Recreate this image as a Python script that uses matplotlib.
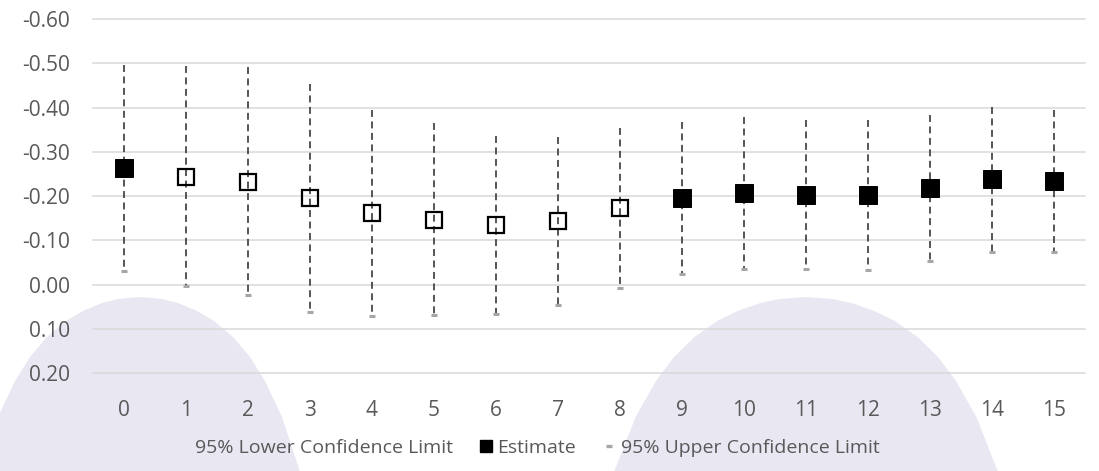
import matplotlib
matplotlib.use("Agg")
import numpy as np
import matplotlib.pyplot as plt
from matplotlib.lines import Line2D
from matplotlib.patches import Polygon

# Period index on the horizontal axis
periods = [0, 1, 2, 3, 4, 5, 6, 7, 8, 9, 10, 11, 12, 13, 14, 15]

# Point estimates with their 95% confidence limits
estimate = [-0.263, -0.244, -0.233, -0.196, -0.162, -0.147, -0.135, -0.143,
            -0.174, -0.196, -0.206, -0.203, -0.202, -0.218, -0.239, -0.235]
lower_cl = [-0.497, -0.493, -0.491, -0.454, -0.395, -0.365, -0.336, -0.333,
            -0.354, -0.368, -0.378, -0.372, -0.371, -0.384, -0.402, -0.395]
upper_cl = [-0.032, 0.004, 0.023, 0.061, 0.071, 0.068, 0.066, 0.046,
            0.008, -0.025, -0.035, -0.035, -0.033, -0.053, -0.074, -0.074]

y_ticks = [-0.60, -0.50, -0.40, -0.30, -0.20, -0.10, 0.00, 0.10, 0.20]

plt.rcParams["font.family"] = ["Open Sans", "DejaVu Sans"]
TEXT_GREY = "#595959"
FS = 15

W, H = 1099, 471
fig = plt.figure(figsize=(W / 100, H / 100), dpi=100)
fig.patch.set_facecolor("white")


def px_box(x0, y0, x1, y1):
    """Axes rectangle from pixel edges (origin at top-left)."""
    return [x0 / W, 1 - y1 / H, (x1 - x0) / W, (y1 - y0) / H]


# Faint background emblem: two rounded humps rising from the bottom edge
def hump(peak_x, peak_y, scale):
    depth = np.array([0, 2, 6, 14, 24, 40, 60, 84, 120, 175, 200])
    half = np.array([0, 22, 38, 57, 74, 93, 110, 125, 142, 160, 168]) * scale
    right = [(peak_x + h, peak_y + d) for d, h in zip(depth, half)]
    left = [(peak_x - h, peak_y + d) for d, h in zip(depth[::-1], half[::-1])]
    pts = right + left
    return [(x / W, 1 - y / H) for x, y in pts]


for px, py, sc in [(140, 297, 1.0), (806, 297, 1.2)]:
    fig.patches.append(Polygon(hump(px, py, sc), closed=True,
                               transform=fig.transFigure, facecolor="#E9E7F2",
                               edgecolor="none", zorder=-5))

ax = fig.add_axes(px_box(93, 19, 1085, 373.3))
ax.set_facecolor("none")

x = np.array(periods)
est = np.array(estimate)
lo = np.array(lower_cl)
up = np.array(upper_cl)
significant = up < 0

# Confidence interval drawn as a dashed line from lower to upper limit
ax.vlines(x, lo, up, colors="#404040", linewidth=1.25,
          linestyles=(0, (4.0, 2.6)), zorder=2)

# Upper limit tick mark
ax.plot(x, up, linestyle="none", marker="_", markersize=4.5,
        markeredgewidth=2.2, color="#A6A6A6", zorder=4)

# Estimates: filled where the interval excludes zero, hollow otherwise
ax.plot(x[significant], est[significant], linestyle="none", marker="s",
        markersize=13, markerfacecolor="black", markeredgecolor="black",
        markeredgewidth=0.7, zorder=3)
ax.plot(x[~significant], est[~significant], linestyle="none", marker="s",
        markersize=12.2, markerfacecolor="none", markeredgecolor="black",
        markeredgewidth=1.6, zorder=3)

ax.set_xlim(-0.5, 15.5)
ax.set_ylim(0.20, -0.60)
ax.set_yticks(y_ticks)
ax.set_yticklabels([f"{v:.2f}" for v in y_ticks])
ax.set_xticks(periods)
ax.set_xticklabels([str(p) for p in periods])

ax.grid(axis="y", color="#D9D9D9", linewidth=1.1)
ax.grid(axis="x", visible=False)
ax.set_axisbelow(True)
for line in ax.get_ygridlines():
    line.set_clip_on(False)
for s in ax.spines.values():
    s.set_visible(False)

ax.tick_params(axis="y", length=0, pad=16.5, labelsize=FS, labelcolor=TEXT_GREY)
ax.tick_params(axis="x", length=0, pad=19, labelsize=FS, labelcolor=TEXT_GREY)

handles = [
    Line2D([], [], linestyle="none"),
    Line2D([], [], linestyle="none", marker="s", markersize=8,
           markerfacecolor="black", markeredgecolor="black"),
    Line2D([], [], linestyle="none", marker="_", markersize=5,
           markeredgewidth=2.4, color="#A6A6A6"),
]
labels = ["95% Lower Confidence Limit", "Estimate", "95% Upper Confidence Limit"]
fig.legend(handles, labels, loc="center", bbox_to_anchor=(0.481, 1 - 448 / H),
           ncol=3, frameon=False, fontsize=14, labelcolor=TEXT_GREY,
           handlelength=0.6, handletextpad=0.3, columnspacing=1.4,
           borderpad=0)

fig.savefig("out.png", dpi=100, facecolor="white")
